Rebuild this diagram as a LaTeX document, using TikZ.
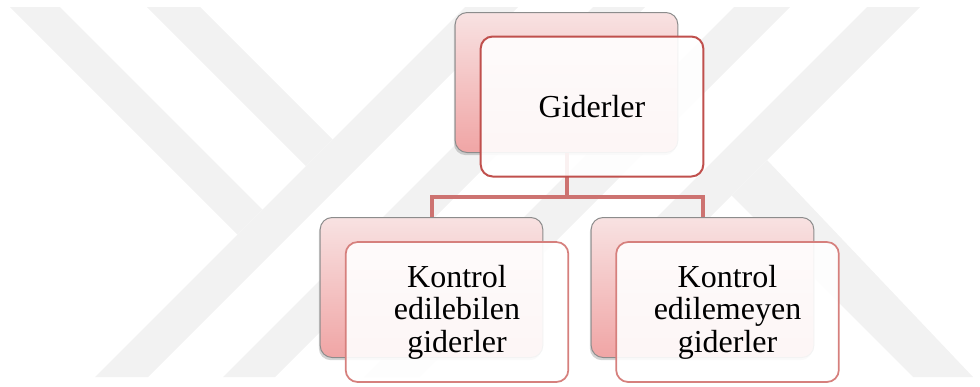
\documentclass[tikz,border=0pt]{standalone}
\usepackage{fontspec}
\setmainfont{Liberation Serif}
\usepackage{xcolor}
\usepackage{tikz}
\usetikzlibrary{shadows}

\definecolor{wmark}{RGB}{242,242,242}
\definecolor{cardtop}{RGB}{248,226,226}
\definecolor{cardbot}{RGB}{240,165,165}
\definecolor{redline}{RGB}{192,80,77}
\definecolor{softred}{RGB}{214,128,125}
\definecolor{linkred}{RGB}{205,115,113}

\begin{document}
\begin{tikzpicture}[x=0.75pt, y=-0.75pt]
    \tikzstyle{backcard}=[rectangle, rounded corners=9pt, draw=gray!90,
            line width=0.75pt, top color=cardtop, bottom color=cardbot,
            minimum width=167pt, minimum height=105pt, inner sep=0pt,
            drop shadow={shadow xshift=-1pt, shadow yshift=-2pt, opacity=0.35}]
    \tikzstyle{frontcard}=[rectangle, rounded corners=9pt, draw=softred,
            line width=1.3pt, fill=white, fill opacity=0.9, text opacity=1,
            minimum width=167pt, minimum height=105pt, inner sep=0pt,
            align=center, font=\rmfamily\fontsize{24}{24.4}\selectfont]
    \tikzstyle{link}=[linkred, line width=3pt]

    \useasboundingbox (0,0) rectangle (980,386);

    % watermark in the background
    \fill[wmark] (10,7) -- (60,7) -- (262.5,209.5) -- (237.5,234.5) -- cycle;
    \fill[wmark] (95,377) -- (148,377) -- (518,7) -- (465,7) -- cycle;
    \fill[wmark] (147,7) -- (200,7) -- (332.5,139.5) -- (306,166) -- cycle;
    \fill[wmark] (223,377) -- (275,377) -- (645,7) -- (593,7) -- cycle;
    \fill[wmark] (734,7) -- (790,7) -- (420,377) -- (364,377) -- cycle;
    \fill[wmark] (867,7) -- (920,7) -- (687,240) -- (634,240) -- cycle;
    \fill[wmark] (767,160) -- (731.5,195.5) -- (913,377) -- (973,377) -- cycle;

    \node[backcard] (bg) at (566.5,82.5) {};
    \foreach \side/\x in {l/431.5, r/702.5}
    {
        \node[backcard] (b\side) at (\x,287.5) {};
    }

    \coordinate (split) at (566.5,197);
    \draw[link] (bg.south) -- (split);
    \foreach \side in {l, r}
    {
        \draw[link] (split) -| (b\side.north);
    }

    \node[frontcard, draw=redline, line width=1.5pt] (fg)
        at ([shift={(25.5,24)}]bg.center) {Giderler};
    \node[frontcard] (fl)
        at ([shift={(25.5,24.5)}]bl.center) {Kontrol\\edilebilen\\giderler};
    \node[frontcard] (fr)
        at ([shift={(25,24.5)}]br.center) {Kontrol\\edilemeyen\\giderler};
\end{tikzpicture}
\end{document}
